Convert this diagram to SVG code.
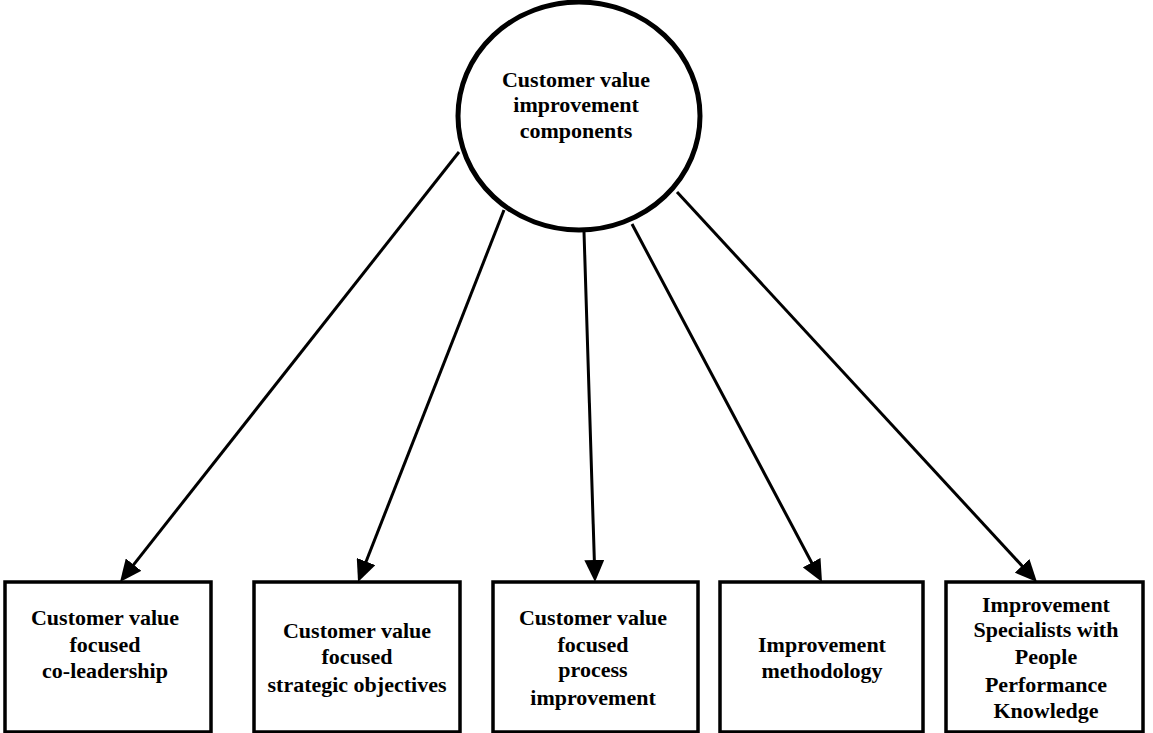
<svg xmlns="http://www.w3.org/2000/svg" width="1153" height="733" viewBox="0 0 1153 733">
  <style>
    .box { fill: #ffffff; stroke: #000000; stroke-width: 3.5; }
    .hub { fill: #ffffff; stroke: #000000; stroke-width: 5; }
    .label { font-family: "Liberation Serif", "Times New Roman", serif; font-weight: bold; font-size: 22px; fill: #000000; text-anchor: middle; }
    .link { stroke: #000000; stroke-width: 3; fill: none; }
  </style>
  <defs>
    <marker id="arrow" markerUnits="userSpaceOnUse" markerWidth="22" markerHeight="20" refX="12" refY="10" orient="auto">
      <path d="M0,0 L22,10 L0,20 z" fill="#000000"/>
    </marker>
  </defs>
  <rect width="1153" height="733" fill="#ffffff"/>

  <!-- connectors from the hub to each component -->
  <g id="connectors">
    <line class="link" x1="459" y1="152" x2="126.2" y2="574.1" marker-end="url(#arrow)"/>
    <line class="link" x1="504" y1="210" x2="361.7" y2="572.7" marker-end="url(#arrow)"/>
    <line class="link" x1="584" y1="232" x2="594.7" y2="572" marker-end="url(#arrow)"/>
    <line class="link" x1="632" y1="224" x2="817.3" y2="573.2" marker-end="url(#arrow)"/>
    <line class="link" x1="677" y1="192" x2="1030.2" y2="574.7" marker-end="url(#arrow)"/>
  </g>

  <g id="hub">
    <ellipse class="hub" cx="579" cy="116" rx="121" ry="114"/>
    <text class="label" x="576" y="87">Customer value</text>
    <text class="label" x="576" y="112">improvement</text>
    <text class="label" x="576" y="138">components</text>
  </g>

  <g id="co-leadership">
    <rect class="box" x="5" y="582" width="206" height="150"/>
    <text class="label" x="105" y="625">Customer value</text>
    <text class="label" x="105" y="652">focused</text>
    <text class="label" x="105" y="678">co-leadership</text>
  </g>

  <g id="strategic-objectives">
    <rect class="box" x="254" y="582" width="206" height="150"/>
    <text class="label" x="357" y="638">Customer value</text>
    <text class="label" x="357" y="664">focused</text>
    <text class="label" x="357" y="692">strategic objectives</text>
  </g>

  <g id="process-improvement">
    <rect class="box" x="493" y="582" width="205" height="150"/>
    <text class="label" x="593" y="625">Customer value</text>
    <text class="label" x="593" y="652">focused</text>
    <text class="label" x="593" y="677">process</text>
    <text class="label" x="593" y="705">improvement</text>
  </g>

  <g id="methodology">
    <rect class="box" x="720" y="582" width="203" height="150"/>
    <text class="label" x="822" y="652">Improvement</text>
    <text class="label" x="822" y="678">methodology</text>
  </g>

  <g id="specialists">
    <rect class="box" x="946" y="582" width="197" height="150"/>
    <text class="label" x="1046" y="612">Improvement</text>
    <text class="label" x="1046" y="637">Specialists with</text>
    <text class="label" x="1046" y="664">People</text>
    <text class="label" x="1046" y="692">Performance</text>
    <text class="label" x="1046" y="718">Knowledge</text>
  </g>
</svg>
